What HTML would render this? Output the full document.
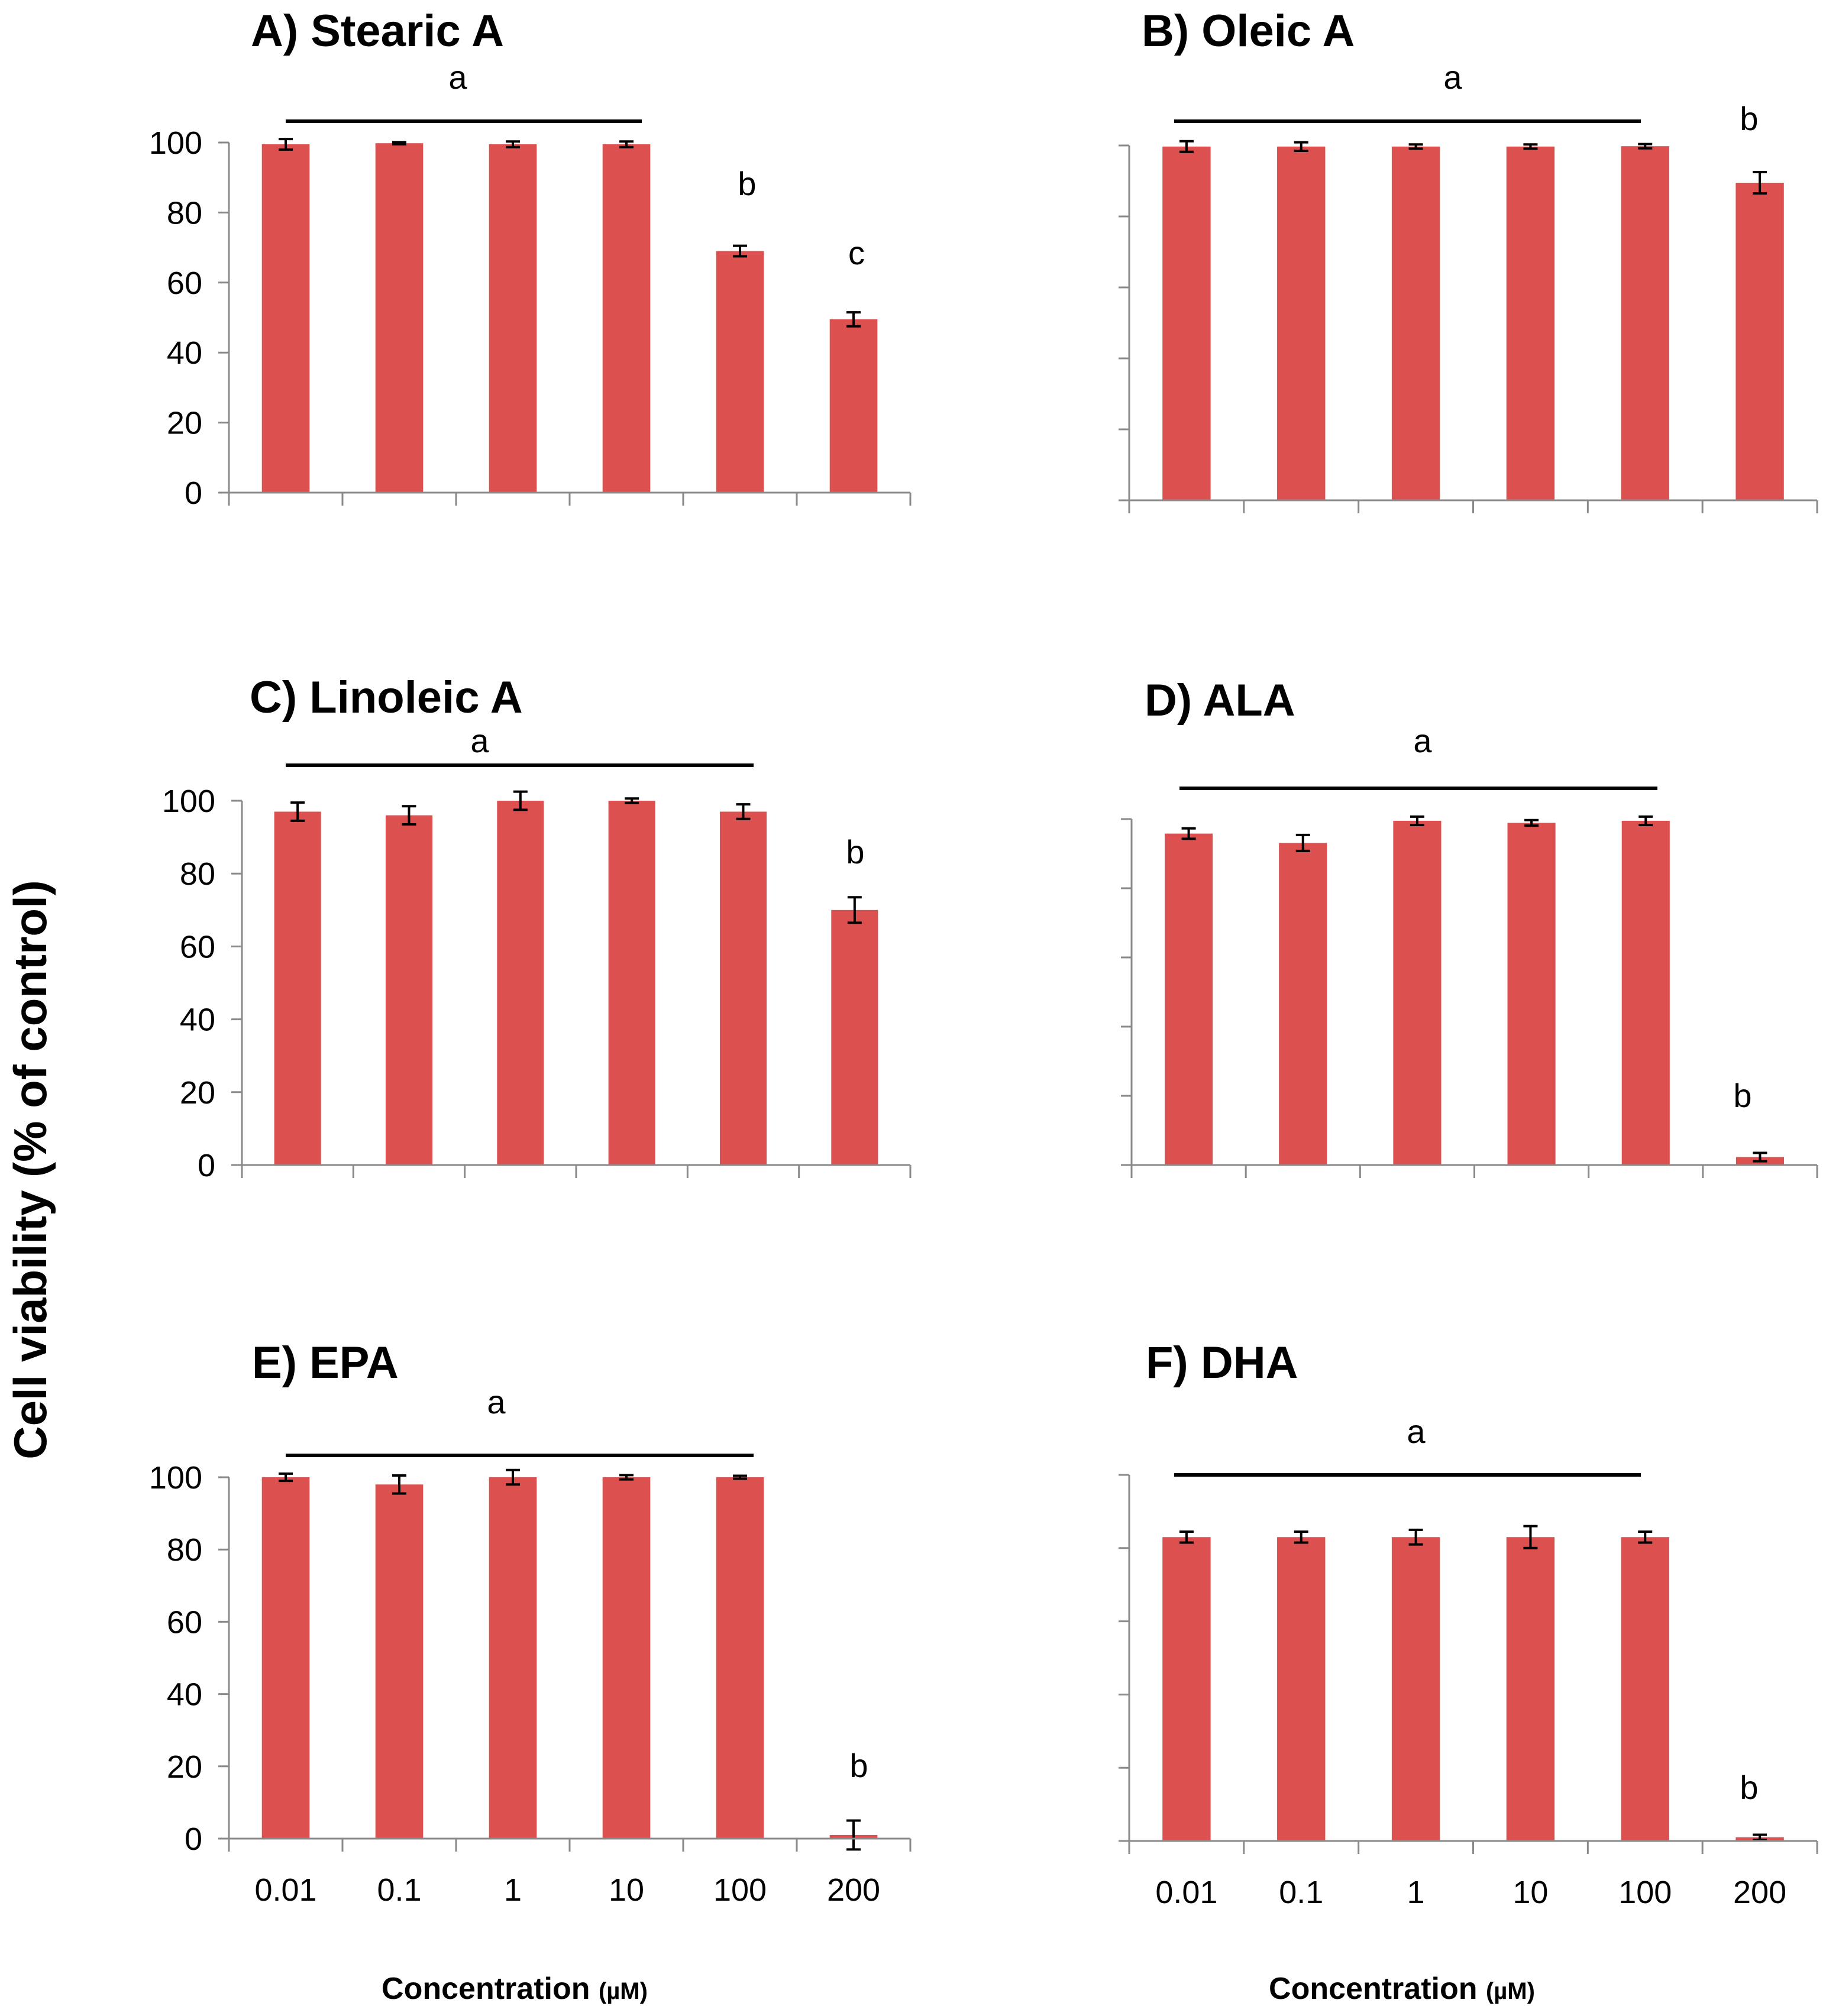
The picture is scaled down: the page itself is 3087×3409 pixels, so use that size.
<!DOCTYPE html>
<html><head><meta charset="utf-8"><style>
html,body{margin:0;padding:0;background:#fff;}
svg{display:block;font-family:"Liberation Sans",sans-serif;}
</style></head><body>
<svg id="fig" width="3087" height="3409" viewBox="0 0 3087 3409" xmlns="http://www.w3.org/2000/svg">
<text transform="translate(78,1978) rotate(-90)" text-anchor="middle" font-size="78" font-weight="bold">Cell viability (% of control)</text>
<text x="870" y="3380" text-anchor="middle" font-size="52" font-weight="bold">Concentration <tspan font-size="40">(µM)</tspan></text>
<text x="2370" y="3380" text-anchor="middle" font-size="52" font-weight="bold">Concentration <tspan font-size="40">(µM)</tspan></text>
</svg>
<script>
const categories = ["0.01","0.1","1","10","100","200"];
const yTicks = [0,20,40,60,80,100];
const valuesA = [99.5,99.8,99.5,99.5,69,49.5];
const errorsA = [1.5,0.3,0.8,0.8,1.5,2];
const valuesB = [99.7,99.7,99.7,99.7,99.8,89.5];
const errorsB = [1.5,1.2,0.6,0.6,0.6,3];
const valuesC = [97,96,100,100,97,70];
const errorsC = [2.5,2.5,2.5,0.6,2,3.5];
const valuesD = [95.8,93.1,99.5,98.9,99.5,2.3];
const errorsD = [1.5,2.3,1.2,0.8,1.2,1.2];
const valuesE = [100,98,100,100,100,1];
const errorsE = [1,2.5,2,0.6,0.4,4];
const valuesF = [83,83,83,83,83,1];
const errorsF = [1.5,1.5,2,3,1.5,0.7];

const NS="http://www.w3.org/2000/svg";
const svg=document.getElementById('fig');
function mk(tag,attrs,parent){const e=document.createElementNS(NS,tag);for(const k in attrs)e.setAttribute(k,attrs[k]);(parent||svg).appendChild(e);return e;}

const panels=[
 {id:'a',title:'A) Stearic A',vals:valuesA,errs:errorsA,x0:387,x1:1539,yTop:241,y0:833,labels:true,xl:false,tx:424,ty:78,
  grpLine:[483,1085,205],grpLetter:[774,150],extra:[['b',1263,330],['c',1448,447]]},
 {id:'b',title:'B) Oleic A',vals:valuesB,errs:errorsB,x0:1909,x1:3072,yTop:246,y0:846,labels:false,xl:false,tx:1930,ty:78,
  grpLine:[1985,2774,205],grpLetter:[2456,150],extra:[['b',2957,220]]},
 {id:'c',title:'C) Linoleic A',vals:valuesC,errs:errorsC,x0:409,x1:1539,yTop:1354,y0:1970,labels:true,xl:false,tx:422,ty:1205,
  grpLine:[483,1274,1294],grpLetter:[811,1272],extra:[['b',1446,1460]]},
 {id:'d',title:'D) ALA',vals:valuesD,errs:errorsD,x0:1913,x1:3072,yTop:1385,y0:1970,labels:false,xl:false,tx:1935,ty:1210,
  grpLine:[1994,2802,1333],grpLetter:[2405,1272],extra:[['b',2946,1872]]},
 {id:'e',title:'E) EPA',vals:valuesE,errs:errorsE,x0:387,x1:1539,yTop:2498,y0:3109,labels:true,xl:true,tx:426,ty:2330,
  grpLine:[483,1274,2461],grpLetter:[839,2390],extra:[['b',1452,3005]]},
 {id:'f',title:'F) DHA',vals:valuesF,errs:errorsF,x0:1909,x1:3072,yTop:2494,y0:3113,labels:false,xl:true,tx:1937,ty:2330,
  grpLine:[1985,2774,2494],grpLetter:[2394,2440],extra:[['b',2957,3042]]}
];

panels.forEach(p=>{
  const g=mk('g',{});
  
  
  const yS=v=>p.y0-(v/100)*(p.y0-p.yTop);
  const n=categories.length, cw=(p.x1-p.x0)/n, bw=cw*0.42;
  const xC=i=>p.x0+cw*(i+0.5);
  const t=mk('text',{x:p.tx,y:p.ty,'font-size':76,'font-weight':'bold'},g);t.textContent=p.title;
  
  
  p.vals.forEach((v,i)=>{
    const r=mk('rect',{x:xC(i)-bw/2,y:yS(v),width:bw,height:p.y0-yS(v),fill:'#dc5150'},g);
    
    
    const e=p.errs[i],cx=xC(i);
    const eg=mk('path',{d:`M${cx},${yS(v+e)}V${yS(v-e)}M${cx-12},${yS(v+e)}H${cx+12}M${cx-12},${yS(v-e)}H${cx+12}`,stroke:'#000','stroke-width':4,fill:'none'},g);
    
    
  });
  const ax=mk('path',{d:`M${p.x0},${p.yTop}V${p.y0}M${p.x0-18},${p.y0}H${p.x1}`,stroke:'#8a8a8a','stroke-width':3,fill:'none'},g);
  
  
  yTicks.forEach(v=>{
    mk('line',{x1:p.x0-18,x2:p.x0,y1:yS(v),y2:yS(v),stroke:'#8a8a8a','stroke-width':3},g);
    if(p.labels){const tl=mk('text',{x:p.x0-45,y:yS(v)+19,'text-anchor':'end','font-size':54},g);tl.textContent=v;
      
      }
  });
  for(let i=0;i<=n;i++) mk('line',{x1:p.x0+cw*i,x2:p.x0+cw*i,y1:p.y0,y2:p.y0+22,stroke:'#8a8a8a','stroke-width':3},g);
  if(p.xl) categories.forEach((c,i)=>{const tl=mk('text',{x:xC(i),y:p.y0+105,'text-anchor':'middle','font-size':54},g);tl.textContent=c;
    
    });
  const gl=mk('line',{x1:p.grpLine[0],x2:p.grpLine[1],y1:p.grpLine[2],y2:p.grpLine[2],stroke:'#000','stroke-width':6},g);
  
  
  const la=mk('text',{x:p.grpLetter[0],y:p.grpLetter[1],'text-anchor':'middle','font-size':56},g);la.textContent='a';
  
  
  p.extra.forEach(ex=>{const l=mk('text',{x:ex[1],y:ex[2],'text-anchor':'middle','font-size':56},g);l.textContent=ex[0];
    
    });
});
</script>
</body></html>
